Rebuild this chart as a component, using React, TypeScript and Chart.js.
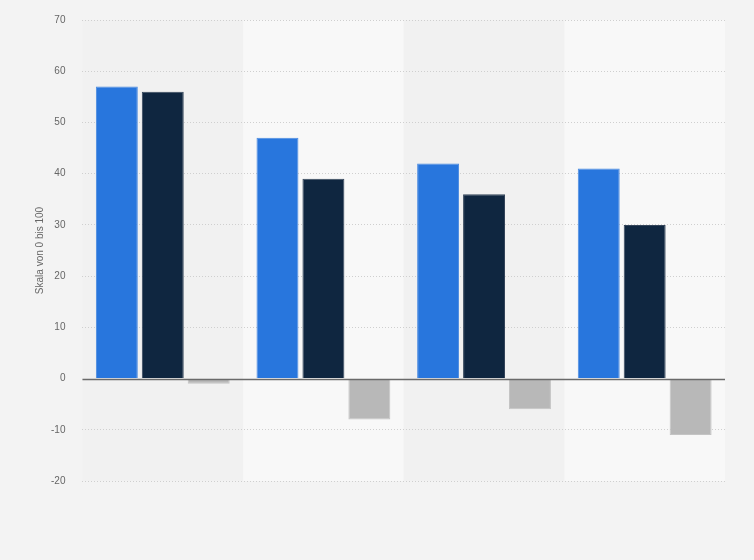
import { useEffect, useRef } from "react";
import { Chart, registerables, Plugin } from "chart.js";

Chart.register(...registerables);

const categories = ["Gruppe 1", "Gruppe 2", "Gruppe 3", "Gruppe 4"];
const seriesA = [57, 47, 42, 41];
const seriesB = [56, 39, 36, 30];
const seriesDiff = [-1, -8, -6, -11];

// alternating category bands behind the plot
const bandPlugin: Plugin<"bar"> = {
  id: "bands",
  beforeDraw(chart) {
    const { ctx, chartArea, scales } = chart;
    const x = scales.x;
    ctx.save();
    ctx.fillStyle = "#f3f3f3";
    ctx.fillRect(0, 0, chart.width, chart.height);
    const n = categories.length;
    const w = (chartArea.right - chartArea.left) / n;
    for (let i = 0; i < n; i++) {
      const left = x.getPixelForValue(i) - w / 2;
      ctx.fillStyle = i % 2 === 1 ? "#f8f8f8" : "#f1f1f1";
      ctx.fillRect(left, chartArea.top, w, chartArea.bottom - chartArea.top);
    }
    ctx.restore();
  },
};

// solid zero line drawn over the bars
const zeroLinePlugin: Plugin<"bar"> = {
  id: "zeroLine",
  afterDatasetsDraw(chart) {
    const { ctx, chartArea, scales } = chart;
    const y = Math.round(scales.y.getPixelForValue(0)) + 0.5;
    ctx.save();
    ctx.strokeStyle = "#6a6a6a";
    ctx.lineWidth = 1.5;
    ctx.beginPath();
    ctx.moveTo(chartArea.left, y);
    ctx.lineTo(chartArea.right, y);
    ctx.stroke();
    ctx.restore();
  },
};

const App = () => {
  const chartRef = useRef<HTMLCanvasElement | null>(null);
  const chartInstance = useRef<Chart<"bar"> | null>(null);

  useEffect(() => {
    document.body.style.margin = "0";
    if (!chartRef.current) return;
    if (chartInstance.current) chartInstance.current.destroy();

    chartInstance.current = new Chart(chartRef.current, {
      type: "bar",
      data: {
        labels: categories,
        datasets: [
          { label: "A", data: seriesA, backgroundColor: "#2876dd", borderColor: "#4a8ae0", borderWidth: 1 },
          { label: "B", data: seriesB, backgroundColor: "#0f2640", borderColor: "#34455a", borderWidth: 1 },
          { label: "Differenz", data: seriesDiff, backgroundColor: "#b8b8b8", borderColor: "#c4c4c4", borderWidth: 1 },
        ],
      },
      options: {
        animation: false,
        responsive: false,
        layout: { padding: { top: 20, right: 29, bottom: 71, left: 34 } },
        datasets: { bar: { categoryPercentage: 0.858, barPercentage: 0.913 } },
        plugins: { legend: { display: false }, tooltip: { enabled: false } },
        scales: {
          x: {
            ticks: { display: false },
            grid: { display: false },
            border: { display: false },
          },
          y: {
            min: -20,
            max: 70,
            ticks: {
              stepSize: 10,
              color: "#666666",
              font: { family: "Arial, 'Liberation Sans', sans-serif", size: 10, lineHeight: 0.6 },
              padding: 17,
            },
            border: { display: false, dash: [1, 2] },
            grid: {
              drawTicks: false,
              color: (c) => (c.tick && c.tick.value === 0 ? "rgba(0,0,0,0)" : "#cfcfcf"),
            },
            title: {
              display: true,
              text: "Skala von 0 bis 100",
              color: "#666666",
              font: { family: "Arial, 'Liberation Sans', sans-serif", size: 10 },
              padding: { top: 0, bottom: -12 },
            },
          },
        },
      },
      plugins: [bandPlugin, zeroLinePlugin],
    });

    return () => {
      if (chartInstance.current) {
        chartInstance.current.destroy();
        chartInstance.current = null;
      }
    };
  }, []);

  return (
    <div style={{ width: 754, height: 560 }}>
      <canvas ref={chartRef} width={754} height={560} style={{ display: "block" }} />
    </div>
  );
};

export default App;
